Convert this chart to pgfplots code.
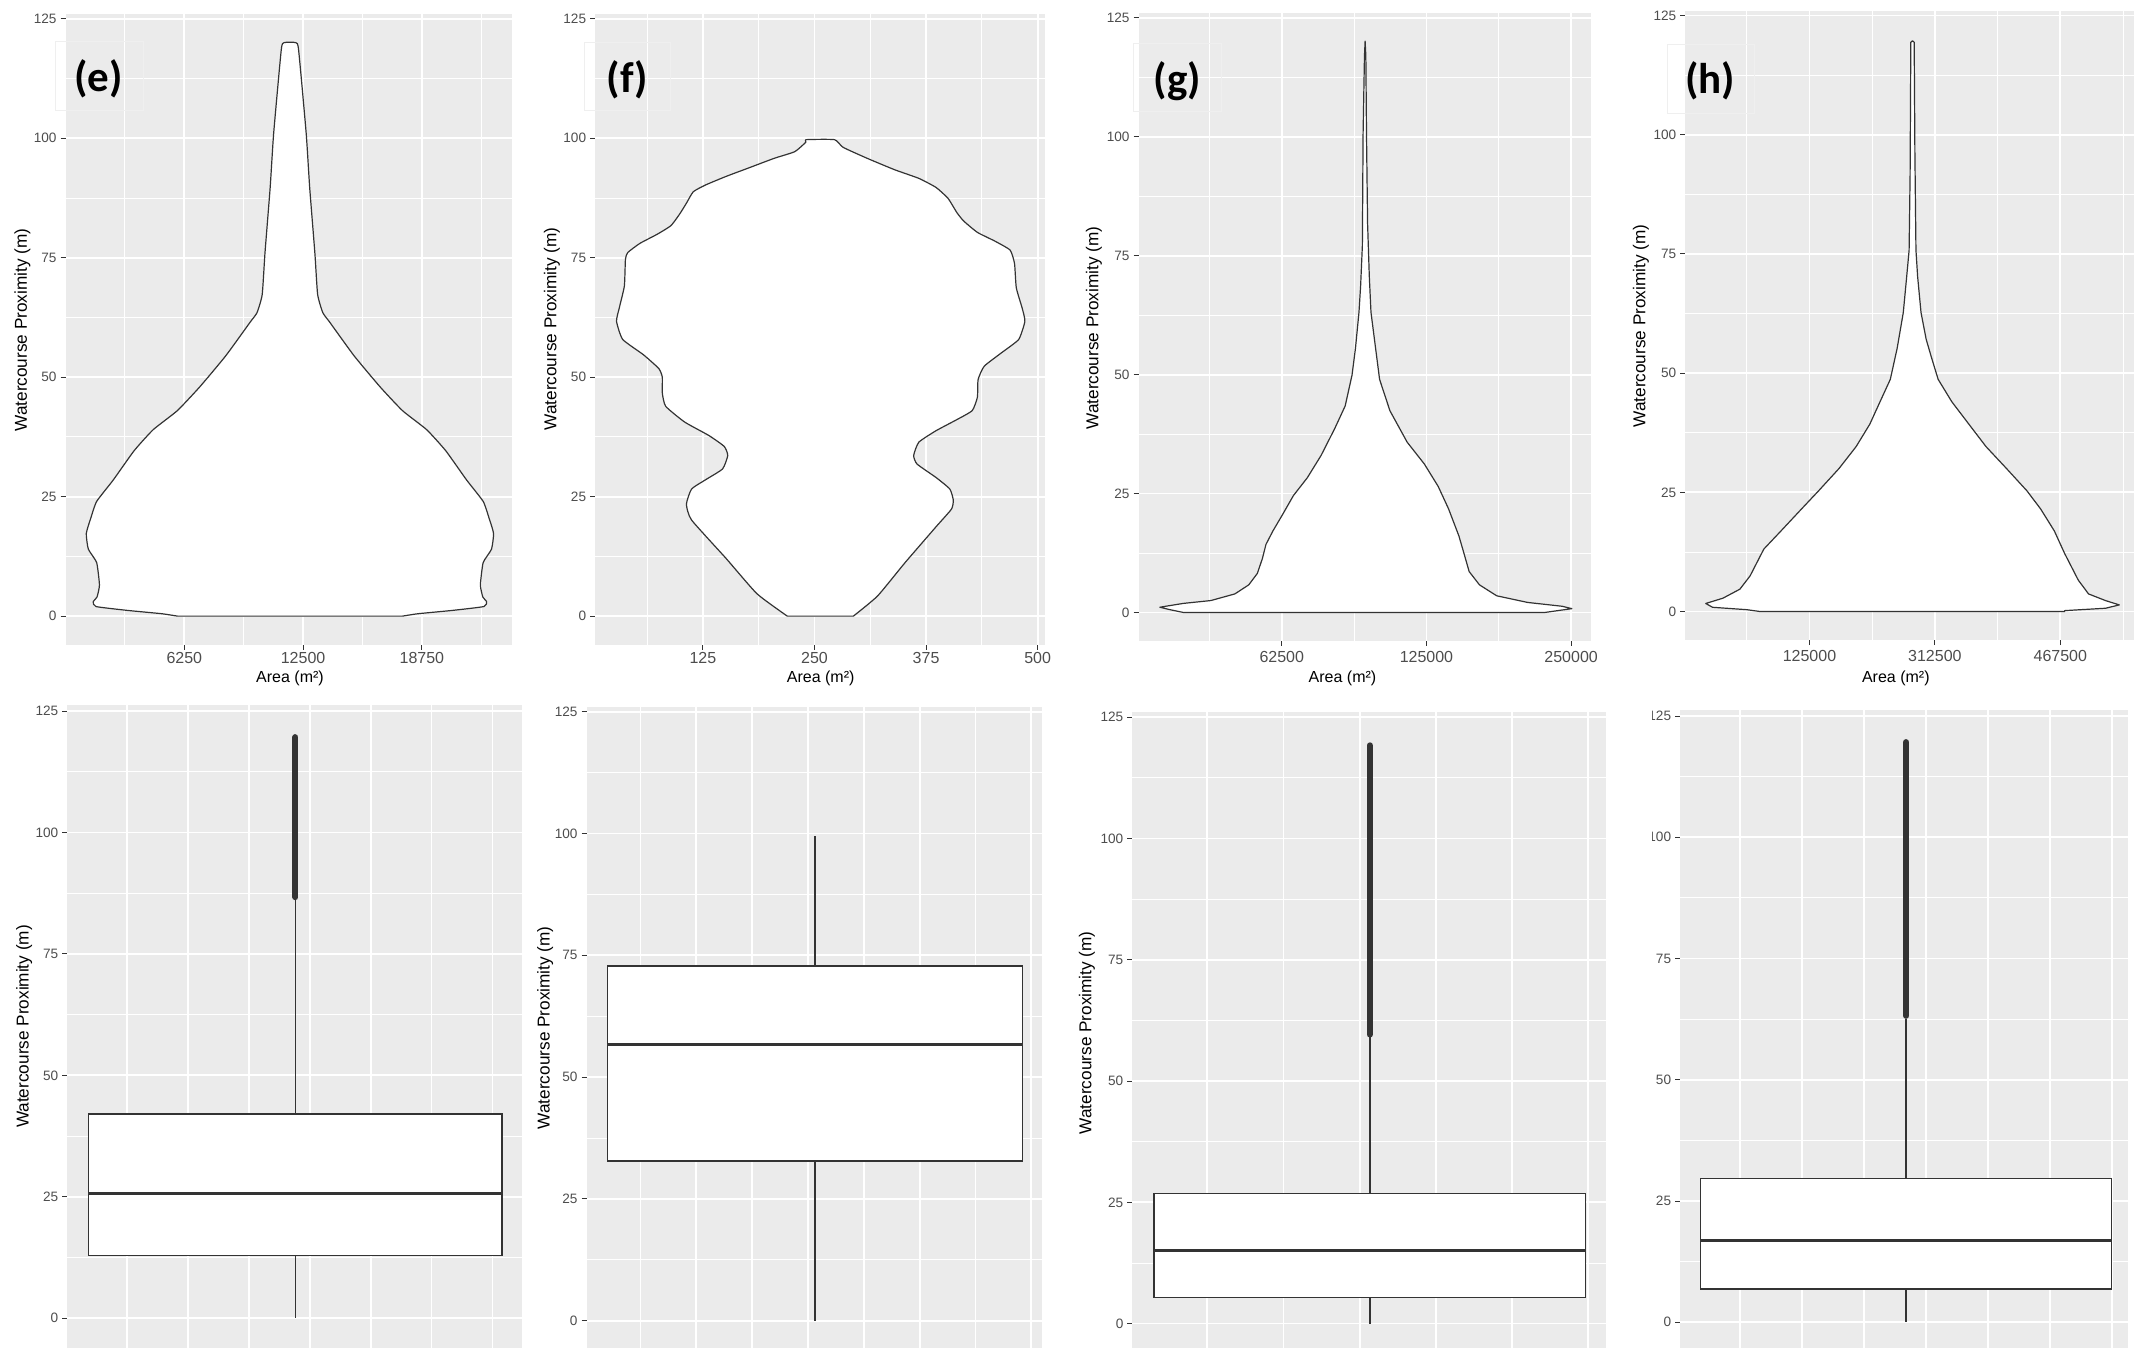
\documentclass[border=0pt]{standalone}
\usepackage{pgfplots}
\pgfplotsset{compat=1.18}
\usepgfplotslibrary{statistics}
\usepackage{fontspec}
\setmainfont{Liberation Sans}
\newfontfamily\labfont{Carlito}
\definecolor{ggbg}{HTML}{EBEBEB}
\definecolor{grey20}{HTML}{333333}
\definecolor{grey30}{HTML}{4D4D4D}
\definecolor{faint}{HTML}{EFEFEF}
\pgfplotsset{
  gg/.style={
    scale only axis,
    anchor=south west,
    axis background/.style={fill=ggbg},
    axis line style={draw=none},
    grid=both,
    major grid style={white, line width=0.9pt},
    minor grid style={white, line width=0.45pt},
    tick pos=left,
    tick align=outside,
    major tick length=2.5pt,
    minor tick length=0pt,
    ytick style={draw=grey20, line width=0.5pt},
    xtick style={draw=none},
    scaled x ticks=false, scaled y ticks=false,
    ytick={0,25,50,75,100,125},
    yticklabels={0,25,50,75,100,125},
    minor ytick={12.5,37.5,62.5,87.5,112.5},
    yticklabel style={font=\fontsize{6.8}{7}\selectfont, text=grey30, anchor=east, inner sep=0pt, xshift=-1.8pt},
    xticklabel style={font=\fontsize{8}{9}\selectfont, text=grey30, anchor=north, inner sep=0pt},
    boxplot/draw direction=y,
  },
  topx/.style={xtick style={draw=grey20, line width=0.5pt}},
  violin/.style={fill=white, draw=grey20, line width=0.6pt, line join=round},
  bx/.style={fill=white, draw=grey20, line width=0.7pt},
  outl/.style={grey20, line width=3.1pt, line cap=round},
}
\begin{document}
\begin{tikzpicture}
\path[use as bounding box] (0,0) rectangle (1073pt,674pt);

% ---------- (e) violin ----------
\begin{axis}[gg, topx, at={(32.75pt,351.6pt)}, width=223.3pt, height=315.4pt,
  xmin=0, xmax=23496, ymin=-6, ymax=126,
  xtick={6250,12500,18750}, xticklabels={6250,12500,18750},
  minor xtick={3125,9375,15625,21875}, xticklabel style={yshift=-0.95pt}]
\addplot[violin, smooth, tension=0.3] coordinates {
(17729,0) (18548,0.5) (20370,1.2) (22010,2) (22156,3) (21956,4) (21828,6.5) (21974,11.2) (22411,14) (22520,17.3) (22284,20.5) (21974,24) (21099,28.5) (20006,34.6) (19004,39) (17729,43) (16544,48) (15178,54.5) (13902,61.5) (13538,63.5) (13265,67.3) (13119,76) (12846,89.7) (12663,101) (12263,118.5) (12117,120)
(11497,120) (11351,118.5) (10951,101) (10768,89.7) (10495,76) (10349,67.3) (10076,63.5) (9712,61.5) (8436,54.5) (7070,48) (5885,43) (4610,39) (3608,34.6) (2515,28.5) (1640,24) (1330,20.5) (1094,17.3) (1203,14) (1640,11.2) (1786,6.5) (1658,4) (1458,3) (1604,2) (3244,1.2) (5066,0.5) (5885,0)
} --cycle;
\end{axis}

% ---------- (f) violin ----------
\begin{axis}[gg, topx, at={(297.55pt,351.6pt)}, width=224.7pt, height=315.4pt,
  xmin=4.2, xmax=507.7, ymin=-6, ymax=126,
  xtick={125,250,375,500}, xticklabels={125,250,375,500},
  minor xtick={62.5,187.5,312.5,437.5}, xticklabel style={yshift=-0.95pt}]
\addplot[violin, smooth, tension=0.3] coordinates {
(219.5,0) (185.6,4.67) (150.8,12.1) (112.3,20.1) (106.5,23.4) (112.3,26.6) (127.7,28.5) (147.0,30.8) (152.8,33.6) (148.9,35.5) (131.6,37.8) (104.6,40.6) (83.3,43.9) (79.5,46.7) (79.5,50.0) (75.6,51.8) (58.3,54.7) (35.1,57.9) (28.2,61.7) (31.3,64.5) (37.0,69.1) (38.2,74.7) (40.9,76.1) (54.4,78.0) (73.7,79.9) (89.1,81.7) (98.8,84.1) (106.5,86.4) (114.2,88.8) (127.7,90.2) (150.8,92.0) (177.9,93.9) (204.9,95.8) (228.0,97.2) (240.4,99.2) (240.4,99.7)
(272.4,99.7) (282.0,98.1) (309.0,95.8) (339.9,93.4) (366.9,91.6) (386.2,89.7) (399.7,87.4) (409.3,84.5) (417.0,82.7) (432.5,80.3) (451.8,78.5) (469.1,76.6) (474.1,73.8) (476.1,68.7) (482.6,64.5) (485.7,61.7) (478.8,57.9) (459.5,55.1) (440.2,52.3) (433.3,49.5) (432.5,45.8) (426.7,43.0) (409.3,41.1) (386.2,38.8) (366.9,36.4) (361.1,33.6) (365.0,31.8) (386.2,29.0) (401.6,26.6) (405.5,24.3) (403.5,22.4) (386.2,18.7) (351.5,11.2) (320.6,4.2) (293.6,0)
} --cycle;
\end{axis}

% ---------- (g) violin ----------
\begin{axis}[gg, topx, at={(569.25pt,353.5pt)}, width=226.1pt, height=313.95pt,
  xmin=0.019, xmax=6.271, ymin=-6, ymax=126,
  xtick={2,4,6}, xticklabels={62500,125000,250000},
  minor xtick={1,3,5}, xticklabel style={yshift=-2.45pt}]
\addplot[violin] coordinates {
(5.638,0) (6.010,0.8) (5.876,1.3) (5.400,2.1) (4.971,3.5) (4.733,5.8) (4.590,8.6) (4.519,12.4) (4.448,16.1) (4.305,21.8) (4.162,26.5) (3.971,31.2) (3.733,35.8) (3.495,42.4) (3.352,49) (3.281,57.4) (3.233,63.1) (3.210,70.6) (3.186,81.8) (3.171,100.6) (3.162,117) (3.152,120.1)
(3.143,117) (3.124,100.6) (3.114,77.1) (3.090,68.7) (3.067,63.1) (3.019,55.6) (2.971,49.9) (2.876,43.4) (2.733,38.7) (2.543,33) (2.352,28.3) (2.162,24.6) (2.019,20.8) (1.876,17.1) (1.781,14.3) (1.733,11.4) (1.662,8.2) (1.543,5.8) (1.352,3.9) (1.019,2.5) (0.638,1.9) (0.314,1.1) (0.448,0.6) (0.638,0)
} --cycle;
\end{axis}

% ---------- (h) violin ----------
\begin{axis}[gg, topx, at={(842.6pt,353.9pt)}, width=224.4pt, height=314.7pt,
  xmin=0.019, xmax=7.175, ymin=-6, ymax=126,
  xtick={2,4,6}, xticklabels={125000,312500,467500},
  minor xtick={1,3,5,7}, xticklabel style={yshift=-2.6pt}]
\addplot[violin] coordinates {
(6.068,0) (6.068,0.2) (6.722,0.7) (6.940,1.4) (6.722,2.3) (6.450,3.7) (6.286,6.6) (6.068,12.2) (5.905,16.9) (5.687,21.5) (5.469,25.3) (5.142,30) (4.815,34.6) (4.542,39.3) (4.270,44) (4.052,48.7) (3.943,53.4) (3.861,57.1) (3.779,62.7) (3.725,70.2) (3.698,75.8) (3.681,96.4) (3.670,119.4) (3.643,119.7)
(3.616,119.4) (3.605,91.8) (3.589,75.8) (3.550,70.2) (3.496,62.7) (3.398,55.2) (3.289,48.7) (3.125,44) (2.962,39.3) (2.744,34.6) (2.471,30) (2.144,25.3) (1.872,21.5) (1.545,16.9) (1.272,13.1) (1.054,7.5) (0.891,4.7) (0.619,2.8) (0.346,1.7) (0.455,0.9) (1.0,0.4) (1.218,0)
} --cycle;
\end{axis}

% ---------- bottom row boxplots ----------
\begin{axis}[gg, at={(33.6pt,0pt)}, width=227.3pt, height=321.65pt,
  xmin=0.023, xmax=7.48, ymin=-6.13, ymax=126.3,
  xtick={1,2,3,4,5,6,7}, xticklabels={}]
\addplot[bx, boxplot prepared={draw position=3.7655, box extend=6.785, whisker extend=0,
  lower whisker=0, lower quartile=12.87, median=25.66, upper quartile=42.07, upper whisker=86.1,
  every median/.style={line width=1.5pt}}] coordinates {};
\addplot[outl] coordinates {(3.7655,86.7) (3.7655,119.6)};
\end{axis}

\begin{axis}[gg, at={(293.25pt,0pt)}, width=227.65pt, height=320.6pt,
  xmin=0.031, xmax=8.19, ymin=-5.6, ymax=126.03,
  xtick={1,2,3,4,5,6,7,8}, xticklabels={}]
\addplot[bx, boxplot prepared={draw position=4.124, box extend=7.432, whisker extend=0,
  lower whisker=0, lower quartile=32.8, median=56.7, upper quartile=72.8, upper whisker=99.6,
  every median/.style={line width=1.5pt}}] coordinates {};
\end{axis}

\begin{axis}[gg, at={(566.15pt,0pt)}, width=236.8pt, height=318.1pt,
  xmin=0.014, xmax=6.235, ymin=-5.03, ymax=126.13,
  xtick={1,2,3,4,5,6}, xticklabels={}]
\addplot[bx, boxplot prepared={draw position=3.1335, box extend=5.669, whisker extend=0,
  lower whisker=0, lower quartile=5.36, median=15.0, upper quartile=26.8, upper whisker=59.0,
  every median/.style={line width=1.5pt}}] coordinates {};
\addplot[outl] coordinates {(3.1335,59.6) (3.1335,119.2)};
\end{axis}

\begin{axis}[gg, at={(840.05pt,0pt)}, width=223.85pt, height=318.95pt,
  xmin=0.035, xmax=7.26, ymin=-5.3, ymax=126.22,
  xtick={1,2,3,4,5,6,7}, xticklabels={}]
\addplot[bx, boxplot prepared={draw position=3.682, box extend=6.632, whisker extend=0,
  lower whisker=0, lower quartile=6.9, median=16.9, upper quartile=29.6, upper whisker=62.6,
  every median/.style={line width=1.5pt}}] coordinates {};
\addplot[outl] coordinates {(3.682,63.2) (3.682,119.6)};
\end{axis}

% white patch that hides part of the left tick labels of the last panel
\fill[white] (803.35pt,0pt) rectangle (826.15pt,324pt);

% faint frames around the panel letters
\draw[faint, line width=0.5pt] (27.85pt,653.15pt) rectangle (71.5pt,618.75pt);
\draw[faint, line width=0.5pt] (292pt,652.8pt) rectangle (335.45pt,618.65pt);
\draw[faint, line width=0.5pt] (566.7pt,652.35pt) rectangle (610.6pt,618.2pt);
\draw[faint, line width=0.5pt] (833.7pt,651.7pt) rectangle (877.1pt,617.1pt);

% ---------- axis titles ----------
\tikzset{yt/.style={rotate=90, font=\fontsize{8.6}{10}\selectfont, inner sep=0pt},
         xt/.style={font=\fontsize{8}{10}\selectfont, inner sep=0pt},
         pl/.style={font=\labfont\bfseries\fontsize{21.5}{24}\selectfont, inner sep=0pt}}
\node[yt] at (11.2pt,509pt) {Watercourse Proximity (m)};
\node[yt] at (276pt,509.5pt) {Watercourse Proximity (m)};
\node[yt] at (546.9pt,510pt) {Watercourse Proximity (m)};
\node[yt] at (820.4pt,511pt) {Watercourse Proximity (m)};
\node[yt] at (12.05pt,160.75pt) {Watercourse Proximity (m)};
\node[yt] at (272.6pt,160.1pt) {Watercourse Proximity (m)};
\node[yt] at (543.45pt,157.6pt) {Watercourse Proximity (m)};

\node[xt] at (145pt,335pt) {Area (m²)};
\node[xt] at (410.35pt,335pt) {Area (m²)};
\node[xt] at (671.25pt,335pt) {Area (m²)};
\node[xt] at (947.9pt,335pt) {Area (m²)};

\node[pl] at (49.3pt,634.8pt) {(e)};
\node[pl] at (313.75pt,634pt) {(f)};
\node[pl] at (588.75pt,633.5pt) {(g)};
\node[pl] at (855pt,633.5pt) {(h)};
\end{tikzpicture}
\end{document}
